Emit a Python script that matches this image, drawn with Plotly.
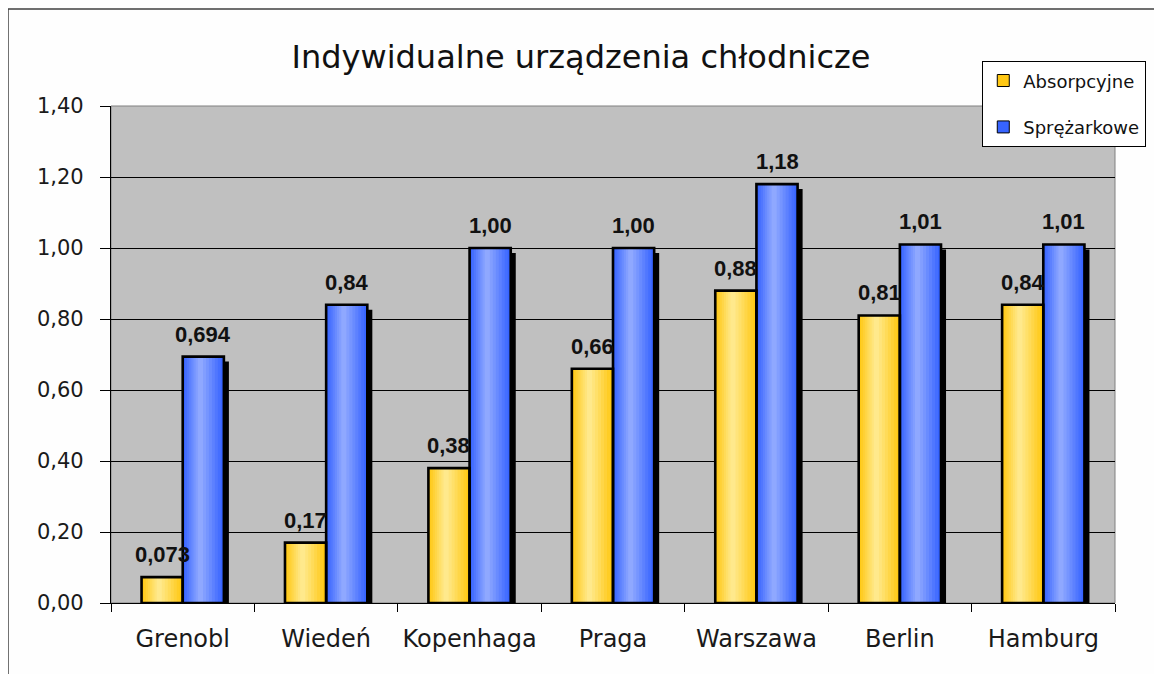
import plotly.graph_objects as go

# ---------------- data ----------------
categories = ["Grenobl", "Wiedeń", "Kopenhaga", "Praga", "Warszawa", "Berlin", "Hamburg"]
absorpcyjne = [0.073, 0.17, 0.38, 0.66, 0.88, 0.81, 0.84]
sprezarkowe = [0.694, 0.84, 1.00, 1.00, 1.18, 1.01, 1.01]
absorpcyjne_labels = ["0,073", "0,17", "0,38", "0,66", "0,88", "0,81", "0,84"]
sprezarkowe_labels = ["0,694", "0,84", "1,00", "1,00", "1,18", "1,01", "1,01"]
series_names = ["Absorpcyjne", "Sprężarkowe"]
y_ticks = [0.0, 0.2, 0.4, 0.6, 0.8, 1.0, 1.2, 1.4]
title_text = "Indywidualne urządzenia chłodnicze"

# ---------------- style ----------------
BAR_W = 0.287
SHADOW_DX = 0.035
SHADOW_DY = 0.014
N_LAYERS = 8
PEAK = 0.42

series = [
    dict(name=series_names[0], y=absorpcyjne, labels=absorpcyjne_labels, offset=-BAR_W,
         edge=(255, 200, 20), center=(255, 233, 140)),
    dict(name=series_names[1], y=sprezarkowe, labels=sprezarkowe_labels, offset=0.0,
         edge=(55, 100, 255), center=(143, 168, 255)),
]


def mix(a, b, t):
    return "rgb(%d,%d,%d)" % tuple(round(a[i] + (b[i] - a[i]) * t) for i in range(3))


fig = go.Figure()

# shadows
for s in series:
    fig.add_trace(go.Bar(
        x=categories, y=s["y"], base=[-SHADOW_DY] * len(s["y"]),
        width=BAR_W, offset=s["offset"] + SHADOW_DX,
        marker=dict(color="black", line=dict(width=0)),
        showlegend=False, hoverinfo="skip",
    ))

# gradient layers
for gi, s in enumerate(series):
    for k in range(N_LAYERS):
        f = 1 - k / N_LAYERS
        left = PEAK - f * PEAK
        w = f * BAR_W
        col = mix(s["edge"], s["center"], k / (N_LAYERS - 1))
        fig.add_trace(go.Bar(
            x=categories, y=s["y"], width=w, offset=s["offset"] + left * BAR_W,
            marker=dict(color=col, line=dict(color="black", width=1 if k == 0 else 0)),
            name=s["name"], showlegend=(k == 0), legendgroup=s["name"],
            hoverinfo="skip",
        ))

# outlines
for s in series:
    fig.add_trace(go.Bar(
        x=categories, y=s["y"], width=BAR_W, offset=s["offset"],
        marker=dict(color="rgba(0,0,0,0)", line=dict(color="black", width=2.6)),
        showlegend=False, hoverinfo="skip",
    ))

# data labels
annotations = []
for s in series:
    for i, (v, lab) in enumerate(zip(s["y"], s["labels"])):
        annotations.append(dict(
            x=i + s["offset"] + BAR_W / 2, y=v, xref="x", yref="y",
            text="<b>%s</b>" % lab, showarrow=False, yanchor="bottom", xanchor="center",
            yshift=8, font=dict(family="Liberation Sans, Arial", size=22, color="#111111"),
        ))

# the page body adds an 8 px margin, so the figure is 8 px smaller
fig.update_layout(
    width=1154, height=666,
    margin=dict(l=103, r=47, t=98, b=71),
    paper_bgcolor="#FEFEFE", plot_bgcolor="#C0C0C0",
    barmode="overlay",
    separators=", ",
    title=dict(text=title_text, x=573 / 1154, xref="container", xanchor="center",
               y=1 - 49 / 666, yref="container", yanchor="middle",
               font=dict(family="DejaVu Sans", size=32, color="#111111")),
    legend=dict(x=0.8675, y=1.0905, xanchor="left", yanchor="top",
                bgcolor="white", bordercolor="black", borderwidth=1.3,
                font=dict(family="DejaVu Sans", size=18, color="#111111"),
                tracegroupgap=20, traceorder="grouped"),
    annotations=annotations,
    xaxis=dict(type="category", range=[-0.5, 6.5], showgrid=False,
               showline=True, linecolor="black", linewidth=1.3,
               ticks="outside", tickson="boundaries", ticklen=8, tickcolor="black",
               tickfont=dict(family="DejaVu Sans", size=24, color="#1a1a1a"),
               tickangle=0, automargin=False, ticklabelstandoff=14),
    yaxis=dict(range=[0, 1.4], tickvals=y_ticks, tickformat=".2f",
               showgrid=True, gridcolor="black", gridwidth=1,
               showline=True, linecolor="black", linewidth=1.3,
               ticks="outside", ticklen=10, tickcolor="black",
               tickfont=dict(family="DejaVu Sans", size=21, color="#1a1a1a"),
               automargin=False, ticklabelstandoff=12, zeroline=False),
    shapes=[
        dict(type="rect", xref="paper", yref="paper", x0=0, x1=1, y0=0, y1=1,
             line=dict(color="#808080", width=1), layer="below"),
        dict(type="line", xref="paper", yref="paper", x0=-0.1026, x1=-0.1026,
             y0=-0.3, y1=1.1952, line=dict(color="#404040", width=1.5)),
        dict(type="line", xref="paper", yref="paper", x0=-0.1026, x1=1.2,
             y0=1.1952, y1=1.1952, line=dict(color="#404040", width=1.5)),
    ],
)

fig.write_html("out.html")
